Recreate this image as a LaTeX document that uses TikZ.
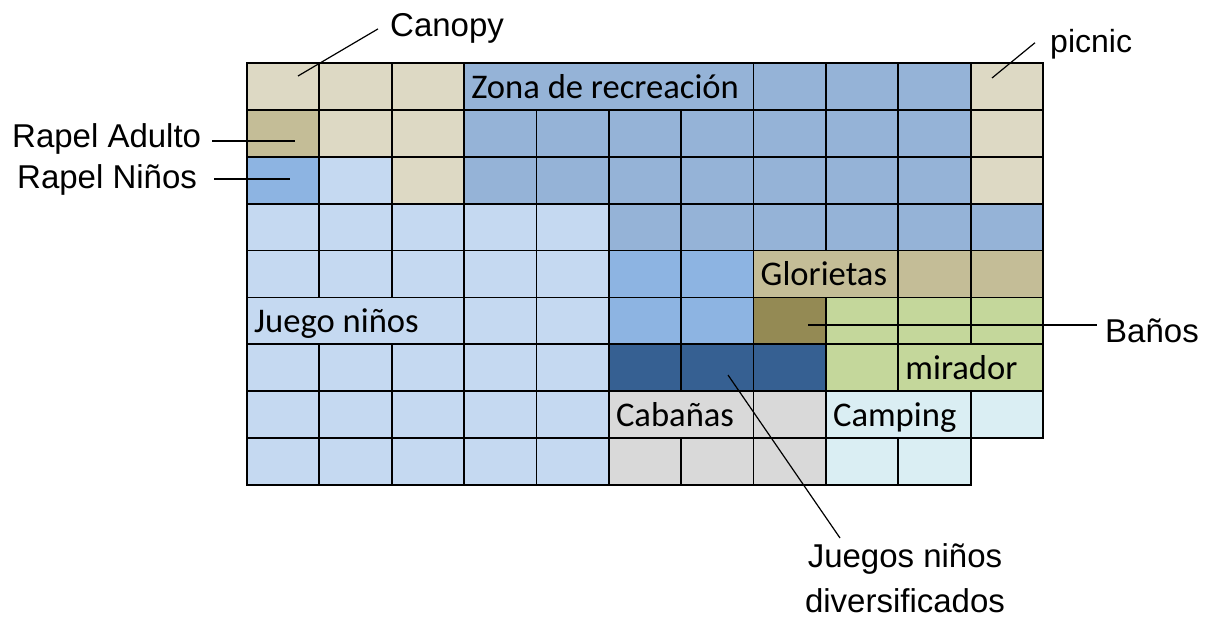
\documentclass[tikz,border=0pt]{standalone}
\usepackage{fontspec}
\setmainfont{Liberation Sans}
\newfontfamily\cellfont{Carlito}
\definecolor{beige}{RGB}{221,217,196}
\definecolor{dbeige}{RGB}{196,189,151}
\definecolor{zblue}{RGB}{149,179,215}
\definecolor{lblue}{RGB}{197,217,241}
\definecolor{mblue}{RGB}{141,180,226}
\definecolor{olive}{RGB}{148,138,84}
\definecolor{lgreen}{RGB}{196,215,155}
\definecolor{dblue}{RGB}{54,96,146}
\definecolor{lgrey}{RGB}{217,217,217}
\definecolor{lcyan}{RGB}{218,238,243}
\newcommand\gcell[4]{\filldraw[gridline, fill=#4] (#1,#3) rectangle (#2,#3+1);}
\begin{document}
\begin{tikzpicture}[x=1pt,y=-1pt,
  gridline/.style={draw=black,line width=1.8pt},
  leader/.style={draw=black,line width=1.2pt},
  lab/.style={font=\fontsize{33}{45}\selectfont, inner sep=0pt},
  celltext/.style={font=\cellfont\fontsize{34.6}{40}\selectfont, inner sep=0pt, anchor=base west, xshift=7pt, yshift=11.5pt}]
\useasboundingbox (0,0) rectangle (1205,618);

\begin{scope}[shift={(247pt,-63pt)}, x=72.36pt, y=-46.89pt]
  % row 0
  \foreach \c in {0,1,2} {\gcell{\c}{\c+1}{0}{beige}}
  \gcell{3}{7}{0}{zblue}
  \foreach \c in {7,8,9} {\gcell{\c}{\c+1}{0}{zblue}}
  \gcell{10}{11}{0}{beige}
  % row 1
  \gcell{0}{1}{1}{dbeige}
  \foreach \c in {1,2} {\gcell{\c}{\c+1}{1}{beige}}
  \foreach \c in {3,...,9} {\gcell{\c}{\c+1}{1}{zblue}}
  \gcell{10}{11}{1}{beige}
  % row 2
  \gcell{0}{1}{2}{mblue}
  \gcell{1}{2}{2}{lblue}
  \gcell{2}{3}{2}{beige}
  \foreach \c in {3,...,9} {\gcell{\c}{\c+1}{2}{zblue}}
  \gcell{10}{11}{2}{beige}
  % row 3
  \foreach \c in {0,...,4} {\gcell{\c}{\c+1}{3}{lblue}}
  \foreach \c in {5,...,10} {\gcell{\c}{\c+1}{3}{zblue}}
  % row 4
  \foreach \c in {0,...,4} {\gcell{\c}{\c+1}{4}{lblue}}
  \foreach \c in {5,6} {\gcell{\c}{\c+1}{4}{mblue}}
  \gcell{7}{9}{4}{dbeige}
  \foreach \c in {9,10} {\gcell{\c}{\c+1}{4}{dbeige}}
  % row 5
  \gcell{0}{3}{5}{lblue}
  \foreach \c in {3,4} {\gcell{\c}{\c+1}{5}{lblue}}
  \foreach \c in {5,6} {\gcell{\c}{\c+1}{5}{mblue}}
  \gcell{7}{8}{5}{olive}
  \foreach \c in {8,9,10} {\gcell{\c}{\c+1}{5}{lgreen}}
  % row 6
  \foreach \c in {0,...,4} {\gcell{\c}{\c+1}{6}{lblue}}
  \foreach \c in {5,6,7} {\gcell{\c}{\c+1}{6}{dblue}}
  \gcell{8}{9}{6}{lgreen}
  \gcell{9}{11}{6}{lgreen}
  % row 7
  \foreach \c in {0,...,4} {\gcell{\c}{\c+1}{7}{lblue}}
  \gcell{5}{7}{7}{lgrey}
  \gcell{7}{8}{7}{lgrey}
  \gcell{8}{10}{7}{lcyan}
  \gcell{10}{11}{7}{lcyan}
  % row 8
  \foreach \c in {0,...,4} {\gcell{\c}{\c+1}{8}{lblue}}
  \foreach \c in {5,6,7} {\gcell{\c}{\c+1}{8}{lgrey}}
  \foreach \c in {8,9} {\gcell{\c}{\c+1}{8}{lcyan}}
  % cell texts
  \node[celltext] (zona) at (3,1) {Zona de recreación};
  \node[celltext] (glorietas) at (7,5) {Glorietas};
  \node[celltext] (juego) at (0,6) {Juego niños};
  \node[celltext] (mirador) at (9,7) {mirador};
  \node[celltext] (cabanas) at (5,8) {Cabañas};
  \node[celltext] (camping) at (8,8) {Camping};
\end{scope}

% outside labels
\node[lab, anchor=base west] (canopy) at (390,37) {Canopy};
\node[lab, anchor=base west, font=\fontsize{32}{40}\selectfont] (picnic) at (1050,53) {picnic};
\node[lab, anchor=base west] (rapelA) at (12,147) {Rapel Adulto};
\node[lab, anchor=base west] (rapelN) at (17,188) {Rapel Niños};
\node[lab, anchor=base west] (banos) at (1105,342) {Baños};
\node[lab, anchor=north, align=center] (jd) at (905,543) {Juegos niños\\diversificados};

\coordinate (canA) at (298,76);
\coordinate (picA) at (992,78);
\coordinate (raE) at (295,141);
\coordinate (rnE) at (290,179);
\coordinate (baE) at (808,325);
\coordinate (jdA) at (728,375);

\draw[leader] (canA) -- ([xshift=-12pt]canopy.west);
\draw[leader] (picA) -- ([xshift=-15pt,yshift=2pt]picnic.west);
\draw[leader, shorten <=11pt] (rapelA.east |- raE) -- (raE);
\draw[leader, shorten <=17pt] (rapelN.east |- rnE) -- (rnE);
\draw[leader, shorten >=8pt] (baE) -- (baE -| banos.west);
\draw[leader] (jdA) -- ([xshift=-65pt,yshift=5pt]jd.north);
\end{tikzpicture}
\end{document}
